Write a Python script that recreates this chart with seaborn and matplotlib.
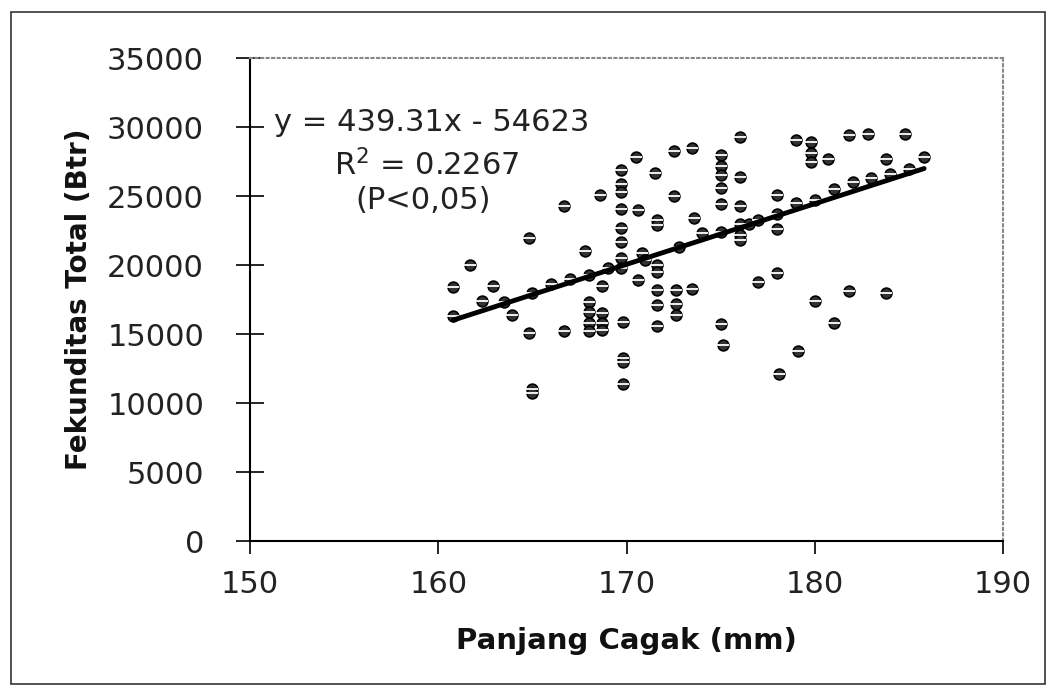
import numpy as np
import pandas as pd
import matplotlib
matplotlib.use('Agg')
import matplotlib.pyplot as plt
import seaborn as sns

# Data
panjang = [160.8, 160.8, 161.7, 162.3, 162.9, 163.5, 163.9, 164.8, 164.8, 165.0, 165.0,
           165.0, 166.0, 166.7, 166.7, 167.0, 167.8, 168.0, 168.0, 168.0, 168.0, 168.0,
           168.6, 168.7, 168.7, 168.7, 168.7, 169.0,
           169.7, 169.7, 169.7, 169.7, 169.7, 169.7, 169.7, 169.7, 169.8, 169.8, 169.8, 169.8,
           170.5, 170.6, 170.8, 170.6, 171.0,
           171.5, 171.6, 171.6, 171.6, 171.6, 171.6, 171.6, 171.6,
           172.5, 172.5, 172.6, 172.6, 172.6, 172.8,
           173.5, 173.6, 173.5, 174.0,
           175.0, 175.0, 175.0, 175.0, 175.0, 175.0, 175.0, 175.1,
           176.0, 176.0, 176.0, 176.0, 176.0, 176.0, 176.5,
           177.0, 177.0, 178.0, 178.0, 178.0, 178.1, 178.0,
           179.0, 179.1, 179.0, 179.8, 179.8, 179.8, 180.0, 180.0,
           180.7, 181.0, 181.0, 181.8, 181.8, 182.0, 182.8, 183.0,
           183.8, 183.8, 184.0, 184.8, 185.0, 185.8]
fekunditas = [18400, 16300, 20000, 17400, 18500, 17300, 16400, 22000, 15100, 11000, 10700,
              18000, 18600, 24300, 15200, 19000, 21000, 17300, 16600, 15800, 15200, 19300,
              25100, 18500, 16500, 15800, 15300, 19800,
              26900, 25900, 25300, 24100, 22700, 21700, 20500, 19800, 15900, 13300, 13000, 11400,
              27800, 24000, 20900, 18900, 20400,
              26700, 23300, 22900, 20000, 19500, 18200, 17100, 15600,
              28300, 25000, 18200, 17200, 16400, 21300,
              28500, 23400, 18300, 22300,
              28000, 27200, 26500, 25600, 24400, 22400, 15700, 14200,
              29300, 26400, 24300, 23000, 22200, 21800, 23000,
              23300, 18800, 25100, 22600, 19400, 12100, 23700,
              29100, 13800, 24500, 28900, 28100, 27500, 17400, 24700,
              27700, 15800, 25500, 29400, 18100, 26000, 29500, 26300,
              27700, 18000, 26600, 29500, 27000, 27800]

# regression line as printed on the chart
slope = 439.31
intercept = -54623

df = pd.DataFrame({'Panjang': panjang, 'Fekunditas': fekunditas})

sns.set_style('white')
plt.rcParams['font.family'] = ['DejaVu Sans']

fig = plt.figure(figsize=(10.52, 6.92), dpi=100)
ax = fig.add_axes([0.2376, 0.218, 0.716, 0.698])

# outer frame of the chart
fig.patches.append(plt.Rectangle((0.01, 0.012), 0.983, 0.97, transform=fig.transFigure,
                                 fill=False, edgecolor='#333333', linewidth=1.2))

sns.scatterplot(data=df, x='Panjang', y='Fekunditas', ax=ax, marker='o', s=60,
                color='#333333', edgecolor='black', linewidth=1.2, zorder=3)
sns.scatterplot(data=df, x='Panjang', y='Fekunditas', ax=ax, marker='_', s=80,
                color='white', linewidth=1.3, zorder=4)

xfit = np.array([min(panjang), max(panjang)])
sns.lineplot(x=xfit, y=slope * xfit + intercept, ax=ax, color='black', linewidth=3.5, zorder=5)

ax.set_xlim(150, 190)
ax.set_ylim(0, 35000)
ax.set_xticks([150, 160, 170, 180, 190])
ax.set_yticks(np.arange(0, 35001, 5000))
ax.tick_params(axis='both', labelsize=22, width=1.2, color='black', labelcolor='#222222',
               bottom=True, left=True)
ax.tick_params(axis='y', direction='inout', length=20, pad=23)
ax.tick_params(axis='x', direction='out', length=9, pad=12)

ax.set_xlabel('Panjang Cagak (mm)', fontsize=21, fontweight='bold', labelpad=20,
              color='#111111')
ax.set_ylabel('Fekunditas Total (Btr)', fontsize=20, fontweight='bold', labelpad=10,
              color='#111111')

for side in ['left', 'bottom']:
    ax.spines[side].set_color('black')
    ax.spines[side].set_linewidth(1.5)
for side in ['top', 'right']:
    ax.spines[side].set_color('#888888')
    ax.spines[side].set_linestyle(':')
    ax.spines[side].set_linewidth(1.5)

ax.text(151.3, 30360, 'y = 439.31x - 54623', fontsize=22, va='center', ha='left',
        color='#222222')
ax.text(159.4, 27240, r'R$^2$ = 0.2267', fontsize=22, va='center', ha='center',
        color='#222222')
ax.text(159.2, 24700, '(P<0,05)', fontsize=22, va='center', ha='center',
        color='#222222')

fig.savefig('out.png', dpi=100)
